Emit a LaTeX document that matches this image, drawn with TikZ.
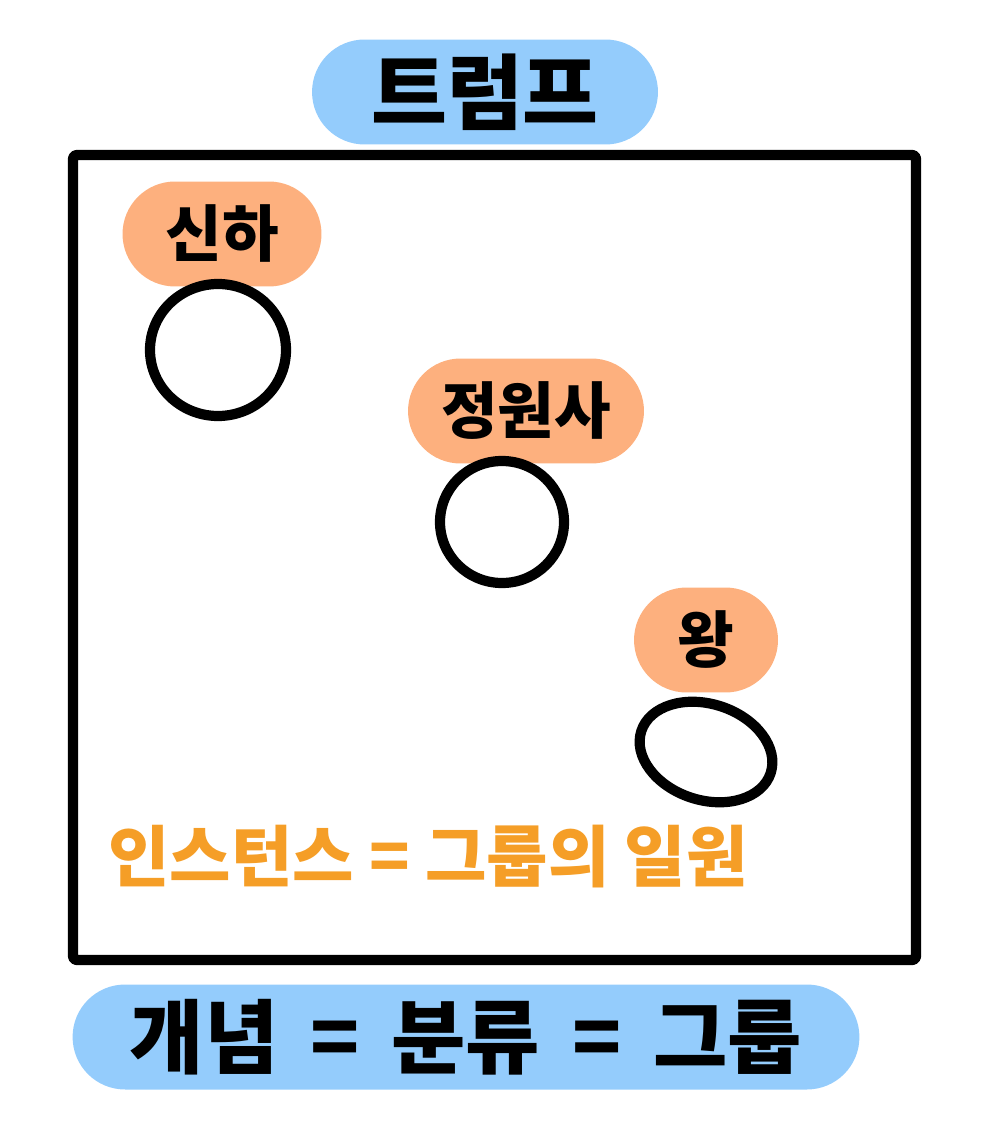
\documentclass[tikz,border=0pt]{standalone}
\usepackage{fontspec}
\newfontfamily\kr{Noto Sans CJK KR}
\definecolor{skyblue}{HTML}{94CCFC}
\definecolor{peach}{HTML}{FDB07E}
\definecolor{tangerine}{HTML}{F59E27}
\begin{document}
\begin{tikzpicture}[x=0.02cm,y=-0.02cm,line join=round,
	pill/.style={fill=#1,rounded corners=1.05cm,minimum height=2.1cm,inner sep=0pt},
	big/.style={font=\kr\bfseries\fontsize{47}{52}\selectfont},
	small/.style={font=\kr\bfseries\fontsize{35}{40}\selectfont},
	ring/.style={line width=5.8pt}]
	\useasboundingbox (0,0) rectangle (1000,1148);
	% group frame and its names
	\draw[line width=5.8pt,rounded corners=2pt] (73,155) rectangle (916,960);
	\node[pill=skyblue,big,minimum width=6.92cm] (trump) at (485,92) {트럼프};
	\node[pill=skyblue,big,minimum width=15.74cm] (concept) at (466,1037) {\fontsize{46}{52}\selectfont 개념 \,=\, 분류 \,=\, 그룹};
	% members
	\node[pill=peach,small,minimum width=3.98cm] (sinha) at (222,234) {신하};
	\node[pill=peach,small,minimum width=4.72cm] (gardener) at (526,411) {정원사};
	\node[pill=peach,small,minimum width=2.88cm] (king) at (706,640) {왕};
	\draw[ring] (218,350) ellipse [x radius=68,y radius=66];
	\draw[ring] (502,522) ellipse [x radius=62,y radius=61];
	\draw[ring] (706,752) ellipse [x radius=68,y radius=48,rotate=-18];
	\node[small,text=tangerine,font=\kr\bfseries\fontsize{38}{44}\selectfont] (instance) at (428,857) {인스턴스 = 그룹의 일원};
\end{tikzpicture}
\end{document}
